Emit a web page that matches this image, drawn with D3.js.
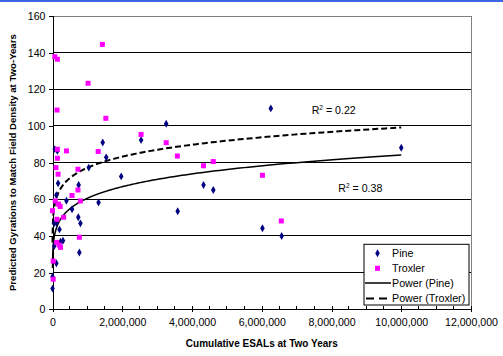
<!DOCTYPE html>
<html><head><meta charset="utf-8">
<script src="https://cdn.jsdelivr.net/npm/d3@7"></script>
<style>body{margin:0;background:#fff;} svg{display:block;font-family:"Liberation Sans",Arial,sans-serif;}</style>
</head><body>
<script>
// Data (x = cumulative ESALs, y = predicted gyrations)
const pineX = [66000,140000,1440000,1540000,2540000,3260000,1040000,1970000,160000,750000,110000,400000,1320000,560000,740000,800000,770000,50000,110000,200000,230000,300000,50000,110000,1000,1000,3590000,4330000,4610000,6260000,6020000,6570000,10000000];
const pineY = [87.4,86.4,91.0,82.9,92.3,101.2,77.3,72.5,68.7,67.8,62.3,59.2,58.3,54.6,50.2,46.9,31.0,46.9,47.2,43.6,36.9,37.4,34.5,25.1,17.8,11.3,53.5,67.8,65.1,109.6,44.2,40.0,88.1];
const troxX = [66000,140000,1430000,1020000,130000,1530000,2540000,3260000,400000,1310000,3580000,4330000,4610000,730000,140000,140000,100000,160000,730000,560000,800000,80000,170000,220000,1000,320000,130000,770000,120000,190000,230000,20000,20000,6020000,6560000];
const troxY = [137.8,136.4,144.5,123.3,108.7,104.2,95.4,90.9,86.4,86.1,83.6,78.3,80.6,76.4,87.3,82.4,77.3,73.7,65.1,62.1,59.1,59.1,57.4,56.1,53.8,50.2,49.1,39.3,36.5,35.1,33.8,26.3,16.4,73.1,48.2];
// Power trendline coefficients y = a * x^b
const pineFit = [8.4, 0.143];
const troxFit = [17.2, 0.1087];
const trendRange = [1000, 10000000];
const xTicks = [0,2000000,4000000,6000000,8000000,10000000,12000000];
const yTicks = [0,20,40,60,80,100,120,140,160];
const r2Labels = ["0.22","0.38"];
const legendLabels = ["Pine","Troxler","Power (Pine)","Power (Troxler)"];

const W=503,H=356;
const svg=d3.select("body").append("svg").attr("width",W).attr("height",H);
svg.append("rect").attr("x",0).attr("y",0).attr("width",W).attr("height",2).attr("fill","#3d66e3");

const L=52.5,R=471,T=16,B=309.3;
const x=d3.scaleLinear().domain([0,12000000]).range([L,R]);
const y=d3.scaleLinear().domain([0,160]).range([B,T]);

// gridlines
svg.append("g").attr("shape-rendering","crispEdges").selectAll("line").data(yTicks.filter(d=>d>0&&d<160)).join("line")
  .attr("x1",L).attr("x2",R).attr("y1",d=>y(d)).attr("y2",d=>y(d)).attr("stroke","#000").attr("stroke-width",1);
// plot border top/right
const bd=svg.append("g").attr("shape-rendering","crispEdges");
bd.append("line").attr("x1",L).attr("x2",R).attr("y1",y(160)).attr("y2",y(160)).attr("stroke","#808080");
bd.append("line").attr("x1",R).attr("x2",R).attr("y1",T).attr("y2",B).attr("stroke","#808080");

// axes
const yAxis=d3.axisLeft(y).tickValues(yTicks).tickSize(4).tickPadding(3).tickFormat(d3.format("d"));
const gy=svg.append("g").attr("transform",`translate(${L},0)`).attr("shape-rendering","crispEdges").call(yAxis);
const xAxis=d3.axisBottom(x).tickValues(xTicks).tickSize(3).tickPadding(6).tickFormat(d3.format(","));
const gx=svg.append("g").attr("transform",`translate(0,${B})`).attr("shape-rendering","crispEdges").call(xAxis);
[gx,gy].forEach(g=>{g.select(".domain").attr("stroke","#000");g.selectAll(".tick line").attr("stroke","#000");
  g.selectAll("text").attr("font-size","10.6px").attr("fill","#000").attr("font-family","Liberation Sans, Arial, sans-serif");});
gx.selectAll(".tick line").attr("y1",-3);
// minor ticks
const minor=d3.range(0,12000001,500000).filter(d=>d%2000000!==0);
svg.append("g").attr("shape-rendering","crispEdges").selectAll("line").data(minor).join("line")
  .attr("x1",d=>x(d)).attr("x2",d=>x(d)).attr("y1",B-3).attr("y2",B).attr("stroke","#000");

// trendlines
const trendXs=d3.range(0,401).map(i=>Math.exp(Math.log(trendRange[0])+(Math.log(trendRange[1])-Math.log(trendRange[0]))*i/400));
const line=d3.line().x(d=>x(d[0])).y(d=>y(d[1]));
svg.append("path").attr("d",line(trendXs.map(v=>[v,pineFit[0]*Math.pow(v,pineFit[1])])))
  .attr("fill","none").attr("stroke","#000").attr("stroke-width",1.5);
svg.append("path").attr("d",line(trendXs.map(v=>[v,troxFit[0]*Math.pow(v,troxFit[1])])))
  .attr("fill","none").attr("stroke","#000").attr("stroke-width",2).attr("stroke-dasharray","6,3");

// points
const diamond=d3.symbol().type(d3.symbolDiamond).size(18);
svg.append("g").selectAll("path").data(pineX.map((v,i)=>[v,pineY[i]])).join("path")
  .attr("d",diamond).attr("transform",d=>`translate(${x(d[0])},${y(d[1])})`).attr("fill","#000080");
svg.append("g").selectAll("rect").data(troxX.map((v,i)=>[v,troxY[i]])).join("rect")
  .attr("x",d=>x(d[0])-2.5).attr("y",d=>y(d[1])-2.5).attr("width",5).attr("height",5).attr("fill","#ff00ff");

// R2 labels
function r2(xp,yp,val){
  const t=svg.append("text").attr("x",xp).attr("y",yp).attr("font-size","10.6px").attr("fill","#000");
  t.append("tspan").text("R");
  t.append("tspan").attr("font-size","6.5px").attr("dy",-4).text("2");
  t.append("tspan").attr("dy",4).text(" = "+val);
}
r2(311.7,114,r2Labels[0]);
r2(338.3,192,r2Labels[1]);

// axis titles
svg.append("text").attr("x",(L+R)/2).attr("y",347).attr("text-anchor","middle").attr("font-size","10px")
  .attr("font-weight","bold").text("Cumulative ESALs at Two Years");
svg.append("text").attr("transform",`translate(16,${(T+B)/2}) rotate(-90)`).attr("text-anchor","middle")
  .attr("font-size","9.6px").attr("font-weight","bold").text("Predicted Gyrations to Match Field Density at Two-Years");

// legend
const lg=svg.append("g");
lg.append("rect").attr("x",364).attr("y",244.3).attr("width",105).attr("height",60.7).attr("fill","#fff").attr("stroke","#000");
const rowY=[253.3,268.3,283,298.5];
lg.append("path").attr("d",diamond).attr("transform",`translate(377.5,${rowY[0]})`).attr("fill","#000080");
lg.append("rect").attr("x",375).attr("y",rowY[1]-2.5).attr("width",5).attr("height",5).attr("fill","#ff00ff");
lg.append("line").attr("x1",365).attr("x2",391).attr("y1",rowY[2]).attr("y2",rowY[2]).attr("stroke","#000").attr("stroke-width",1.5);
lg.append("line").attr("x1",366).attr("x2",391).attr("y1",rowY[3]).attr("y2",rowY[3]).attr("stroke","#000").attr("stroke-width",2).attr("stroke-dasharray","8,5");
lg.selectAll("text.l").data(legendLabels).join("text").attr("class","l").attr("x",392).attr("y",(d,i)=>rowY[i]+3.8)
  .attr("font-size","10.7px").attr("fill","#000").text(d=>d);
</script>
</body></html>
